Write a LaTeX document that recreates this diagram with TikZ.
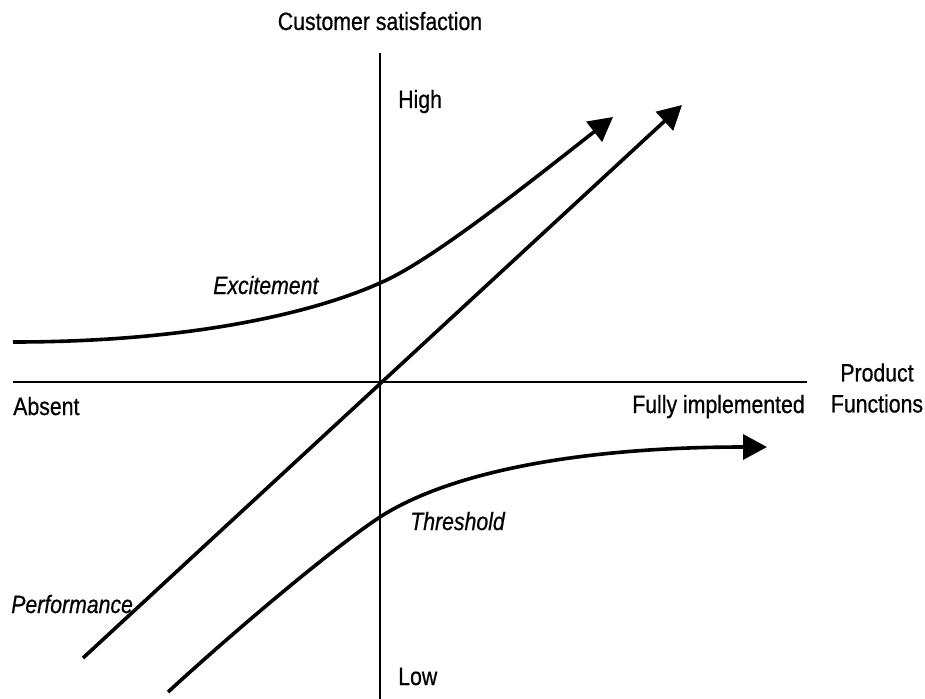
\documentclass[tikz,border=0pt]{standalone}
\usepackage{fontspec}
\setmainfont{Liberation Sans}[FakeStretch=0.85, FakeBold=0.6]
\usetikzlibrary{arrows.meta}
\usetikzlibrary{positioning}

\begin{document}
\begin{tikzpicture}[x=0.75pt, y=-0.75pt,
    >={Triangle[length=18pt, width=18.75pt]},
    axis/.style={line width=1.9pt},
    curve/.style={line width=2.7pt},
    lbl/.style={inner sep=0pt, font=\fontsize{18.75}{23.25}\selectfont},
    kind/.style={lbl, font=\fontsize{18.75}{23.25}\selectfont\itshape}]
      \useasboundingbox (0,0) rectangle (925,699);
      % axes
      \coordinate (ytop) at (380,53);
      \coordinate (ybot) at (380,699);
      \coordinate (xleft) at (13,382);
      \coordinate (xright) at (807,382);
      \draw[axis] (ytop) -- (ybot);
      \draw[axis] (xleft) -- (xright);
      % axis labels
      \node[lbl, anchor=base] (satisf) at (380,30) {Customer satisfaction};
      \node[lbl, anchor=base west] (high) at (398,108) {High};
      \node[lbl, anchor=base west] (low) at (398,685) {Low};
      \node[lbl, anchor=base west] (absent) at (13,415) {Absent};
      \node[lbl, anchor=base east] (full) at (805,413) {Fully implemented};
      \node[lbl, align=center] (funcs) at (877,388) {Product\\Functions};
      % curves
      \coordinate (excstart) at (13,342);
      \coordinate (excmid) at (380,283);
      \coordinate (excend) at (613,117);
      \coordinate (perfstart) at (83,658);
      \coordinate (perfend) at (682,105);
      \coordinate (thrstart) at (168,692);
      \coordinate (thrmid) at (380,517);
      \coordinate (thrend) at (767,447);
      \draw[curve, ->] (excstart) .. controls (200,342) and (320,310) .. (excmid)
        .. controls (430,262) and (530,182) .. (excend);
      \draw[curve, ->] (perfstart) -- (perfend);
      \draw[curve, ->] (thrstart) .. controls (230,635) and (330,550) .. (thrmid)
        .. controls (450,472) and (580,447) .. (thrend);
      \node[kind, anchor=base west] (exc) at (213,294) {Excitement};
      \node[kind, anchor=base west] (thr) at (410,530) {Threshold};
      \node[kind, anchor=base west] (perf) at (11,613) {Performance};
    \end{tikzpicture}
\end{document}
